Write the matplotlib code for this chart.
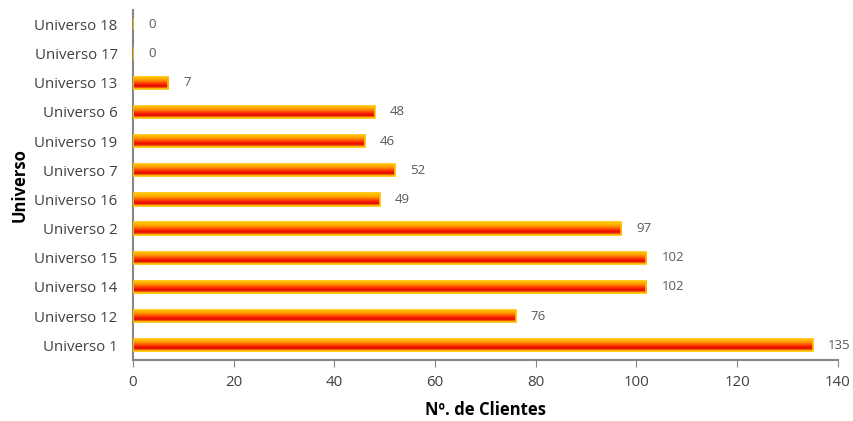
import matplotlib
matplotlib.use("Agg")
import matplotlib.pyplot as plt
import numpy as np
from matplotlib.colors import LinearSegmentedColormap

categories = ["Universo 1", "Universo 12", "Universo 14", "Universo 15", "Universo 2",
              "Universo 16", "Universo 7", "Universo 19", "Universo 6", "Universo 13",
              "Universo 17", "Universo 18"]
values = [135, 76, 102, 102, 97, 49, 52, 46, 48, 7, 0, 0]
xticks = [0, 20, 40, 60, 80, 100, 120, 140]

plt.rcParams['font.family'] = ['Open Sans', 'DejaVu Sans']
fig = plt.figure(figsize=(8.54, 4.21), dpi=100)
ax = fig.add_axes([0.1557, 0.145, 0.8253, 0.832])

y = np.arange(len(categories))
bars = ax.barh(y, values, height=0.42, color="none", edgecolor="#FFC000", linewidth=1.2, zorder=3)

cmap = LinearSegmentedColormap.from_list("g", [
    (0.0, "#FFD200"), (0.3, "#FF9A00"), (0.6, "#FF3000"), (0.78, "#E00000"), (1.0, "#FFB000")])
grad = np.linspace(0, 1, 64).reshape(-1, 1)[::-1]
for b in bars:
    w = b.get_width()
    if w <= 0:
        continue
    x0, y0, h = b.get_x(), b.get_y(), b.get_height()
    im = ax.imshow(grad, cmap=cmap, aspect="auto", extent=[x0, x0 + w, y0 + h, y0],
                   origin="upper", zorder=2, interpolation="bilinear")
    im.set_clip_path(b)

for yi, v in zip(y, values):
    ax.text(v + 3.0, yi, str(v), va="center", ha="left", fontsize=9.5, color="#595959")

ax.set_xlim(0, 140)
ax.set_ylim(-0.5, len(categories) - 0.5)
ax.set_yticks(y)
ax.set_yticklabels(categories, fontsize=10.8, color="#404040")
ax.set_xticks(xticks)
ax.set_xticklabels([str(t) for t in xticks], fontsize=10.8, color="#404040")
ax.tick_params(axis="y", length=0, pad=11)
ax.tick_params(axis="x", length=5, color="#868686", pad=6)
for s in ["top", "right"]:
    ax.spines[s].set_visible(False)
for s in ["left", "bottom"]:
    ax.spines[s].set_color("#868686")
    ax.spines[s].set_linewidth(1.5)
ax.set_xlabel("Nº. de Clientes", fontsize=12, fontweight="bold", color="black", labelpad=8)
ax.set_ylabel("Universo", fontsize=12, fontweight="bold", color="black", labelpad=4)
ax.set_xlim(0, 140)

fig.savefig("out.png", dpi=100)
